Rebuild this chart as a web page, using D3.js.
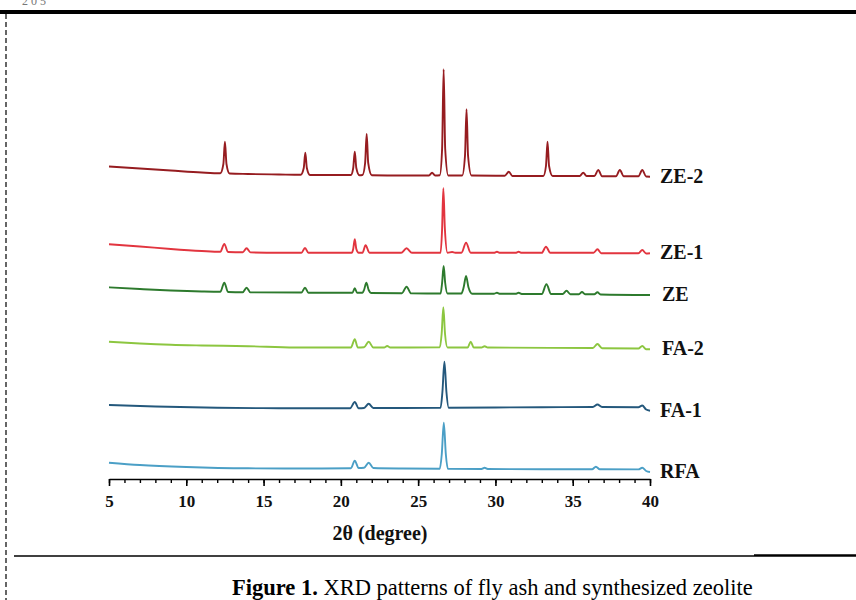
<!DOCTYPE html>
<html>
<head>
<meta charset="utf-8">
<script src="https://cdn.jsdelivr.net/npm/d3@7/dist/d3.min.js"></script>
<style>
  body { margin: 0; background: #fff; }
  svg { display: block; }
</style>
</head>
<body>
<div id="chart"></div>
<script>
// Stacked XRD patterns, points are [2theta (degree), intensity (a.u., offset included)]
var ze2 = [[5, 3125], [7, 3105], [9, 3085], [11, 3065], [12.2, 3058], [12.4, 3150], [12.5, 3373], [12.6, 3150], [12.8, 3055],
  [14, 3050], [16, 3045], [17.4, 3042], [17.6, 3110], [17.7, 3263], [17.8, 3110], [18.0, 3040], [19.5, 3040],
  [20.65, 3040], [20.8, 3110], [20.9, 3273], [21.0, 3110], [21.2, 3038], [21.4, 3040], [21.57, 3160], [21.67, 3450], [21.77, 3160], [22.0, 3038],
  [24, 3035], [25.7, 3035], [25.9, 3063], [26.1, 3035], [26.4, 3038], [26.55, 3300], [26.65, 4097], [26.75, 3300], [26.95, 3035],
  [27.85, 3035], [28.03, 3230], [28.13, 3697], [28.23, 3230], [28.45, 3035], [30.6, 3032], [30.87, 3073], [31.1, 3030],
  [33.1, 3030], [33.27, 3130], [33.37, 3373], [33.47, 3130], [33.7, 3030], [35.45, 3030], [35.68, 3063], [35.9, 3030],
  [36.4, 3030], [36.65, 3090], [36.9, 3028], [37.8, 3028], [38.05, 3090], [38.3, 3028], [39.25, 3028], [39.5, 3090], [39.75, 3025], [40, 3023]];

var ze1 = [[5, 2347], [7, 2325], [9, 2300], [11, 2280], [12.2, 2272], [12.46, 2350], [12.7, 2270], [13.65, 2268], [13.9, 2307], [14.15, 2266],
  [16, 2262], [17.45, 2262], [17.68, 2310], [17.9, 2262], [20.7, 2262], [20.8, 2300], [20.9, 2397], [21.0, 2300], [21.15, 2262],
  [21.4, 2262], [21.6, 2337], [21.85, 2262], [23.9, 2262], [24.25, 2307], [24.6, 2262], [26.45, 2262], [26.55, 2500], [26.63, 2907], [26.73, 2500], [26.9, 2262],
  [27.2, 2270], [27.4, 2262], [27.8, 2262], [28.1, 2363], [28.4, 2262], [29.9, 2262], [30.1, 2272], [30.3, 2262], [31.3, 2262], [31.5, 2272], [31.7, 2262],
  [33.0, 2262], [33.27, 2323], [33.55, 2262], [36.35, 2262], [36.6, 2297], [36.85, 2258], [39.25, 2258], [39.5, 2290], [39.75, 2255], [40, 2257]];

var ze = [[5, 1917], [7, 1900], [9, 1885], [11, 1875], [12.2, 1872], [12.46, 1963], [12.7, 1870], [13.65, 1868], [13.9, 1913], [14.15, 1866],
  [17.45, 1865], [17.68, 1913], [17.9, 1863], [20.75, 1862], [20.9, 1907], [21.05, 1862], [21.4, 1862], [21.5, 1890], [21.65, 1963], [21.8, 1890], [21.95, 1860],
  [23.95, 1858], [24.25, 1923], [24.55, 1856], [26.45, 1855], [26.55, 1960], [26.65, 2130], [26.75, 1960], [26.9, 1855],
  [27.8, 1855], [27.95, 1920], [28.1, 2030], [28.25, 1920], [28.5, 1852], [29.9, 1853], [30.1, 1862], [30.3, 1852], [31.3, 1852], [31.5, 1862], [31.7, 1850],
  [33.0, 1850], [33.3, 1947], [33.6, 1850], [34.35, 1850], [34.6, 1883], [34.85, 1848], [35.4, 1848], [35.6, 1870], [35.8, 1847],
  [36.4, 1847], [36.6, 1867], [36.8, 1845], [40, 1840]];

var fa2 = [[5, 1373], [7, 1355], [9, 1342], [11, 1335], [14, 1328], [17, 1315], [20.65, 1315], [20.9, 1397], [21.1, 1315], [21.5, 1318], [21.8, 1373], [22.1, 1315],
  [22.8, 1315], [23.0, 1330], [23.2, 1315], [26.4, 1317], [26.52, 1450], [26.63, 1717], [26.74, 1450], [26.9, 1315],
  [28.2, 1315], [28.4, 1373], [28.6, 1315], [29.1, 1315], [29.3, 1328], [29.5, 1315], [36.3, 1310], [36.6, 1350], [36.9, 1308],
  [39.25, 1305], [39.5, 1330], [39.75, 1298], [40, 1297]];

var fa1 = [[5, 740], [8, 725], [12, 712], [16, 708], [20.6, 708], [20.9, 770], [21.15, 708], [21.5, 710], [21.8, 752], [22.1, 710],
  [24, 710], [26.45, 712], [26.57, 870], [26.7, 1173], [26.83, 870], [26.98, 712], [30, 715], [33, 718],
  [36.3, 720], [36.6, 745], [36.9, 720], [39.25, 718], [39.5, 735], [39.75, 695], [40, 683]];

var rfa = [[5, 163], [7, 140], [10, 120], [14, 107], [18, 105], [20.65, 108], [20.9, 183], [21.15, 110], [21.5, 112], [21.8, 163], [22.1, 110],
  [24, 105], [26.4, 103], [26.53, 250], [26.66, 563], [26.79, 250], [26.92, 103], [29.1, 100], [29.3, 112], [29.5, 100], [33, 98],
  [36.25, 97], [36.5, 123], [36.75, 97], [39.25, 96], [39.5, 112], [39.75, 80], [40, 70]];

var sampleNames = ["ZE-2", "ZE-1", "ZE", "FA-2", "FA-1", "RFA"];
var sampleData = [ze2, ze1, ze, fa2, fa1, rfa];
var sampleColors = ["#961c20", "#e2353f", "#2d7a2d", "#8cc640", "#24587c", "#4b9fc6"];
var majorTicks = [5, 10, 15, 20, 25, 30, 35, 40];
var minorTicks = d3.range(5, 41, 1);

var width = 856, height = 600;

var svg = d3.select("#chart")
  .append("svg")
  .attr("width", width)
  .attr("height", height);

var serif = "'Liberation Serif', 'Times New Roman', serif";

// page bits around the figure
svg.append("text")
  .attr("x", 22).attr("y", 5)
  .attr("font-family", serif).attr("font-size", 12)
  .attr("fill", "#777")
  .text("2 0 5");
svg.append("line")
  .attr("x1", 0).attr("x2", width).attr("y1", 12).attr("y2", 12)
  .attr("stroke", "#000").attr("stroke-width", 4);
svg.append("line")
  .attr("x1", 6).attr("x2", 6).attr("y1", 14).attr("y2", height)
  .attr("stroke", "#000").attr("stroke-width", 1.2)
  .attr("stroke-dasharray", "5,3");
svg.append("line")
  .attr("x1", 14).attr("x2", 754).attr("y1", 556).attr("y2", 556)
  .attr("stroke", "#000").attr("stroke-width", 1.5);
svg.append("line")
  .attr("x1", 754).attr("x2", width).attr("y1", 555.5).attr("y2", 555.5)
  .attr("stroke", "#000").attr("stroke-width", 2.5);

var x = d3.scaleLinear()
  .domain([5, 40])
  .range([109, 650]);

var y = d3.scaleLinear()
  .domain([0, 4200])
  .range([479, 59]);

var line = d3.line()
  .x(d => x(d[0]))
  .y(d => y(d[1]))
  .curve(d3.curveMonotoneX);

svg.append("g")
  .selectAll("path")
  .data(sampleData)
  .join("path")
    .attr("d", line)
    .attr("fill", "none")
    .attr("stroke", (d, i) => sampleColors[i])
    .attr("stroke-width", 1.9)
    .attr("stroke-linejoin", "round");

// sample labels next to the end of each pattern
svg.append("g")
  .selectAll("text")
  .data(sampleNames)
  .join("text")
    .attr("x", (d, i) => (d == "ZE" || d == "FA-2") ? 662 : 660)
    .attr("y", (d, i) => y(sampleData[i][sampleData[i].length - 1][1]) - 1)
    .attr("dy", "0.35em")
    .attr("font-family", serif)
    .attr("font-weight", "bold")
    .attr("font-size", 20)
    .attr("fill", "#111")
    .text(d => d);

// x axis: minor ticks every degree, labelled ticks every 5
svg.append("g")
  .attr("transform", "translate(0,479)")
  .call(d3.axisBottom(x).tickValues(minorTicks).tickSize(4).tickSizeOuter(0).tickFormat(""))
  .call(g => g.select(".domain").remove())
  .selectAll("line").attr("stroke-width", 1.4);

var xAxis = svg.append("g")
  .attr("transform", "translate(0,479)")
  .call(d3.axisBottom(x).tickValues(majorTicks).tickSize(7).tickSizeOuter(0).tickPadding(9).tickFormat(d3.format("d")));
xAxis.select(".domain").attr("stroke-width", 1.6);
xAxis.selectAll("line").attr("stroke-width", 1.6);
xAxis.selectAll("text")
  .attr("font-family", serif)
  .attr("font-weight", "bold")
  .attr("font-size", 17)
  .attr("fill", "#111");

svg.append("text")
  .attr("x", 380).attr("y", 540)
  .attr("text-anchor", "middle")
  .attr("font-family", serif)
  .attr("font-weight", "bold")
  .attr("font-size", 20)
  .attr("fill", "#111")
  .text("2θ (degree)");

// caption
var caption = svg.append("text")
  .attr("x", 232).attr("y", 595)
  .attr("font-family", serif)
  .attr("font-size", 22.5)
  .attr("fill", "#000");
caption.append("tspan").attr("font-weight", "bold").text("Figure 1.");
caption.append("tspan").text(" XRD patterns of fly ash and synthesized zeolite");
</script>
</body>
</html>
